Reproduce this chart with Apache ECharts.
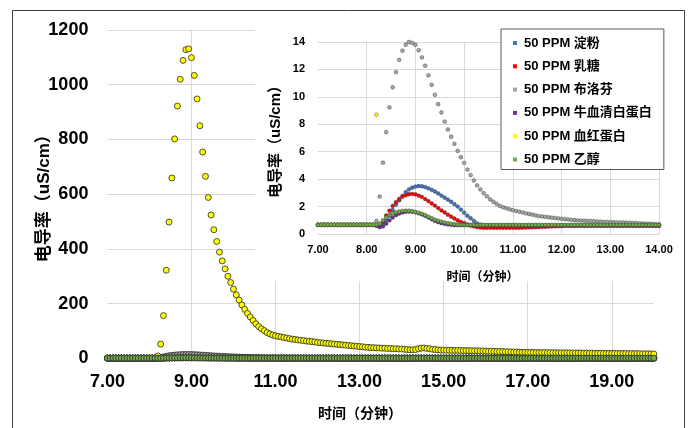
<!DOCTYPE html>
<html>
<head>
<meta charset="utf-8">
<script src="https://cdn.jsdelivr.net/npm/echarts@6/dist/echarts.min.js"></script>
<style>
html,body{margin:0;padding:0;background:#fff;}
#chart{width:695px;height:428px;}
</style>
</head>
<body>
<div id="chart"></div>
<script>
// ---------- data ----------
const seriesNames = ['50 PPM 淀粉', '50 PPM 乳糖', '50 PPM 布洛芬', '50 PPM 牛血清白蛋白', '50 PPM 血红蛋白', '50 PPM 乙醇'];
const seriesColors = ['#4472C4', '#FF0000', '#A5A5A5', '#7030A0', '#FFFF00', '#70AD47'];
const startMinute = 7.0;          // first sample (min)
const minutesPerSample = 1 / 15;  // one reading every 4 s

const mainXTicks = { min: 7, max: 20, step: 2 };
const mainYTicks = { min: 0, max: 1200, step: 200 };
const insetXTicks = { min: 7, max: 14, step: 1 };
const insetYTicks = { min: 0, max: 14, step: 2 };

const xTitle = '时间（分钟）';
const yTitle = '电导率（uS/cm）';

// one row per minute (15 readings), last value = 20.00 min
const starch = [
 0.66,0.66,0.66,0.66,0.66,0.66,0.66,0.66,0.66,0.66,0.66,0.66,0.66,0.66,0.66,
 0.66,0.66,0.66,0.66,0.66,0.75,1.0,1.35,1.75,2.15,2.45,2.78,3.05,3.25,3.38,
 3.46,3.5,3.48,3.42,3.33,3.22,3.1,2.96,2.8,2.65,2.5,2.35,2.18,2.0,1.78,
 1.55,1.33,1.15,0.95,0.78,0.68,0.63,0.62,0.62,0.62,0.62,0.62,0.62,0.62,0.62,
 0.62,0.62,0.62,0.62,0.62,0.62,0.62,0.62,0.62,0.62,0.62,0.62,0.62,0.62,0.62,
 0.62,0.62,0.62,0.62,0.62,0.62,0.62,0.62,0.62,0.62,0.62,0.62,0.62,0.62,0.62,
 0.62,0.62,0.62,0.62,0.62,0.62,0.62,0.62,0.62,0.62,0.62,0.62,0.62,0.62,0.62,
 0.62,0.62,0.62,0.62,0.62,0.62,0.62,0.62,0.62,0.62,0.62,0.62,0.62,0.62,0.62,
 0.62,0.62,0.62,0.62,0.62,0.62,0.62,0.62,0.62,0.62,0.62,0.62,0.62,0.62,0.62,
 0.62,0.62,0.62,0.62,0.62,0.62,0.62,0.62,0.62,0.62,0.62,0.62,0.62,0.62,0.62,
 0.62,0.62,0.62,0.62,0.62,0.62,0.62,0.62,0.62,0.62,0.62,0.62,0.62,0.62,0.62,
 0.62,0.62,0.62,0.62,0.62,0.62,0.62,0.62,0.62,0.62,0.62,0.62,0.62,0.62,0.62,
 0.62,0.62,0.62,0.62,0.62,0.62,0.62,0.62,0.62,0.62,0.62,0.62,0.62,0.62,0.62,
 0.62
];
const lactose = [
 0.66,0.66,0.66,0.66,0.66,0.66,0.66,0.66,0.66,0.66,0.66,0.66,0.66,0.66,0.66,
 0.66,0.66,0.66,0.62,0.55,0.9,1.35,1.7,2.05,2.32,2.56,2.72,2.82,2.9,2.92,
 2.89,2.8,2.7,2.55,2.4,2.23,2.07,1.89,1.72,1.57,1.41,1.26,1.13,1.0,0.89,
 0.8,0.7,0.62,0.55,0.5,0.47,0.45,0.45,0.45,0.45,0.45,0.45,0.45,0.45,0.45,
 0.45,0.45,0.45,0.46,0.47,0.48,0.49,0.5,0.51,0.52,0.53,0.54,0.55,0.56,0.57,
 0.58,0.6,0.6,0.6,0.6,0.6,0.6,0.6,0.6,0.6,0.6,0.6,0.6,0.6,0.6,
 0.6,0.6,0.6,0.6,0.6,0.6,0.6,0.6,0.6,0.6,0.6,0.6,0.6,0.6,0.6,
 0.6,0.6,0.6,0.6,0.6,0.6,0.6,0.6,0.6,0.6,0.6,0.6,0.6,0.6,0.6,
 0.6,0.6,0.6,0.6,0.6,0.6,0.6,0.6,0.6,0.6,0.6,0.6,0.6,0.6,0.6,
 0.6,0.6,0.6,0.6,0.6,0.6,0.6,0.6,0.6,0.6,0.6,0.6,0.6,0.6,0.6,
 0.6,0.6,0.6,0.6,0.6,0.6,0.6,0.6,0.6,0.6,0.6,0.6,0.6,0.6,0.6,
 0.6,0.6,0.6,0.6,0.6,0.6,0.6,0.6,0.6,0.6,0.6,0.6,0.6,0.6,0.6,
 0.6,0.6,0.6,0.6,0.6,0.6,0.6,0.6,0.6,0.6,0.6,0.6,0.6,0.6,0.6,
 0.6
];
const ibuprofen = [
 0.68,0.68,0.68,0.68,0.68,0.68,0.68,0.68,0.68,0.68,0.68,0.68,0.68,0.68,0.68,
 0.68,0.68,0.68,0.95,2.73,5.2,7.43,9.23,10.7,11.8,12.7,13.37,13.8,14.0,13.93,
 13.8,13.4,12.88,12.27,11.57,10.88,10.15,9.47,8.86,8.2,7.62,7.09,6.57,6.06,5.6,
 5.19,4.7,4.3,3.9,3.55,3.25,2.98,2.75,2.53,2.35,2.2,2.05,1.95,1.87,1.8,
 1.74,1.68,1.63,1.57,1.51,1.46,1.41,1.36,1.31,1.28,1.25,1.22,1.19,1.16,1.14,
 1.11,1.08,1.06,1.03,1.01,0.99,0.98,0.97,0.96,0.95,0.93,0.91,0.9,0.88,0.88,
 0.87,0.86,0.85,0.85,0.84,0.83,0.82,0.81,0.8,0.78,0.77,0.76,0.75,0.74,0.72,
 0.71,0.7,0.7,0.7,0.7,0.7,0.7,0.7,0.7,0.7,0.7,0.7,0.7,0.7,0.7,
 0.7,0.7,0.7,0.7,0.7,0.7,0.7,0.7,0.7,0.7,0.7,0.7,0.7,0.7,0.7,
 0.7,0.68,0.68,0.68,0.68,0.68,0.68,0.68,0.68,0.68,0.68,0.68,0.68,0.68,0.68,
 0.68,0.68,0.68,0.68,0.68,0.68,0.68,0.68,0.68,0.68,0.68,0.68,0.68,0.68,0.68,
 0.68,0.66,0.66,0.66,0.66,0.66,0.66,0.66,0.66,0.66,0.66,0.66,0.66,0.66,0.66,
 0.66,0.66,0.66,0.66,0.66,0.66,0.66,0.66,0.66,0.66,0.66,0.66,0.66,0.66,0.66,
 0.66
];
const bsa = [
 0.66,0.66,0.66,0.66,0.66,0.66,0.66,0.66,0.66,0.66,0.66,0.66,0.66,0.66,0.66,
 0.66,0.66,0.66,0.6,0.5,0.55,0.75,1.0,1.2,1.37,1.49,1.57,1.62,1.64,1.62,
 1.58,1.51,1.43,1.32,1.2,1.07,0.95,0.86,0.79,0.74,0.7,0.67,0.64,0.64,0.64,
 0.64,0.64,0.64,0.64,0.64,0.64,0.64,0.64,0.64,0.64,0.64,0.64,0.64,0.64,0.64,
 0.64,0.62,0.62,0.62,0.62,0.62,0.62,0.62,0.62,0.62,0.62,0.62,0.62,0.62,0.62,
 0.62,0.62,0.62,0.62,0.62,0.62,0.62,0.62,0.62,0.62,0.62,0.62,0.62,0.62,0.62,
 0.62,0.62,0.62,0.62,0.62,0.62,0.62,0.62,0.62,0.62,0.62,0.62,0.62,0.62,0.62,
 0.62,0.62,0.62,0.62,0.62,0.62,0.62,0.62,0.62,0.62,0.62,0.62,0.62,0.62,0.62,
 0.62,0.62,0.62,0.62,0.62,0.62,0.62,0.62,0.62,0.62,0.62,0.62,0.62,0.62,0.62,
 0.62,0.62,0.62,0.62,0.62,0.62,0.62,0.62,0.62,0.62,0.62,0.62,0.62,0.62,0.62,
 0.62,0.62,0.62,0.62,0.62,0.62,0.62,0.62,0.62,0.62,0.62,0.62,0.62,0.62,0.62,
 0.62,0.62,0.62,0.62,0.62,0.62,0.62,0.62,0.62,0.62,0.62,0.62,0.62,0.62,0.62,
 0.62,0.62,0.62,0.62,0.62,0.62,0.62,0.62,0.62,0.62,0.62,0.62,0.62,0.62,0.62,
 0.62
];
const hemoglobin = [
 0.68,0.68,0.68,0.68,0.68,0.68,0.68,0.68,0.68,0.68,0.68,0.68,0.68,0.68,0.68,
 0.68,0.68,0.68,8.7,52,156,322,498,659,802,922,1020,1089,1128,1131,
 1099,1034,948,850,754,665,588,524,470,427,388,356,327,300,277,
 253,232,213,195,179,164,151,138,126,116,108,101,94,89,85,
 82,80,78,76,74,72,70,69,67,66,65,63,62,61,60,
 58,57,56,55,54,53,52,51,50,49,48,47,46,45,44,
 43,42,41,40,39,39,38,38,37,37,36,36,35,35,34,
 34,33,32,31,31,32,35,37,38,36,35,33,32,31,30,
 30,29.5,29.5,29,29,29,28.5,28.5,28,28,28,27.5,27.5,27,27,
 26.5,26,26,25.5,25,25,24.5,24,24,23.5,23,23,22.5,22,22,
 21.5,21.5,21.5,21,21,21,21,20.5,20.5,20.5,20.5,20,20,20,20,
 20,19.5,19.5,19.5,19.5,19,19,19,19,18.5,18.5,18.5,18.5,18,18,
 18,18,17.5,17.5,17.5,17.5,17,17,17,17,16.5,16.5,16.5,16.5,16,
 16
];
const ethanol = [
 0.68,0.68,0.68,0.68,0.68,0.68,0.68,0.68,0.68,0.68,0.68,0.68,0.68,0.68,0.68,
 0.68,0.68,0.68,0.68,0.75,1.0,1.22,1.38,1.5,1.58,1.64,1.68,1.7,1.7,1.66,
 1.61,1.55,1.47,1.38,1.27,1.15,1.05,0.97,0.9,0.84,0.79,0.75,0.72,0.7,0.68,
 0.66,0.66,0.66,0.66,0.66,0.66,0.66,0.66,0.66,0.66,0.66,0.66,0.66,0.66,0.66,
 0.66,0.66,0.66,0.66,0.66,0.66,0.66,0.66,0.66,0.66,0.66,0.66,0.66,0.66,0.66,
 0.66,0.66,0.66,0.66,0.66,0.66,0.66,0.66,0.66,0.66,0.66,0.66,0.66,0.66,0.66,
 0.66,0.66,0.66,0.66,0.66,0.66,0.66,0.66,0.66,0.66,0.66,0.66,0.66,0.66,0.66,
 0.66,0.66,0.66,0.66,0.66,0.66,0.66,0.66,0.66,0.66,0.66,0.66,0.66,0.66,0.66,
 0.66,0.66,0.66,0.66,0.66,0.66,0.66,0.66,0.66,0.66,0.66,0.66,0.66,0.66,0.66,
 0.66,0.66,0.66,0.66,0.66,0.66,0.66,0.66,0.66,0.66,0.66,0.66,0.66,0.66,0.66,
 0.66,0.66,0.66,0.66,0.66,0.66,0.66,0.66,0.66,0.66,0.66,0.66,0.66,0.66,0.66,
 0.66,0.66,0.66,0.66,0.66,0.66,0.66,0.66,0.66,0.66,0.66,0.66,0.66,0.66,0.66,
 0.66,0.66,0.66,0.66,0.66,0.66,0.66,0.66,0.66,0.66,0.66,0.66,0.66,0.66,0.66,
 0.66
];
const allValues = [starch, lactose, ibuprofen, bsa, hemoglobin, ethanol];

// ---------- chart ----------
const FONT = '"Liberation Sans", "Noto Sans CJK SC", sans-serif';
const toPoints = vals => vals.map((v, i) => [startMinute + i * minutesPerSample, v]);
const fmt2 = v => v.toFixed(2);
const fmtInt = v => String(v);

const chart = echarts.init(document.getElementById('chart'), null, { renderer: 'canvas' });

const series = [];
allValues.forEach((vals, i) => {
  series.push({
    name: seriesNames[i], type: 'scatter', xAxisIndex: 0, yAxisIndex: 0,
    data: toPoints(vals), symbolSize: 6, z: 2, animation: false,
    itemStyle: { color: seriesColors[i], borderColor: '#262626', borderWidth: 0.8, opacity: 1 }
  });
});
allValues.forEach((vals, i) => {
  series.push({
    name: seriesNames[i], type: 'scatter', xAxisIndex: 1, yAxisIndex: 1,
    data: toPoints(vals), symbolSize: 3.8, z: 5, clip: true, animation: false,
    itemStyle: { color: seriesColors[i], borderColor: '#333', borderWidth: 0.4, opacity: 1 }
  });
});

const gridLine = { show: true, lineStyle: { color: '#d9d9d9', width: 1 } };

chart.setOption({
  animation: false,
  backgroundColor: '#fff',
  textStyle: { fontFamily: FONT },
  grid: [
    { left: 107.4, right: 41.2, top: 30, bottom: 69.7, z: 0 },
    { left: 318, right: 36, top: 42, bottom: 194, z: 3 }
  ],
  xAxis: [
    {
      gridIndex: 0, type: 'value', z: 0,
      min: mainXTicks.min, max: mainXTicks.max, interval: mainXTicks.step,
      axisLine: { show: false }, axisTick: { show: false },
      splitLine: Object.assign({ showMinLine: false, showMaxLine: false }, gridLine),
      axisLabel: { formatter: fmt2, fontSize: 18, fontWeight: 'bold', color: '#000', fontFamily: FONT, margin: 15, showMaxLabel: false, showMinLabel: true },
      name: xTitle, nameLocation: 'middle', nameGap: 49, nameMoveOverlap: false,
      nameTextStyle: { fontSize: 14, fontWeight: 'bold', color: '#000', fontFamily: FONT, padding: [0, 41, 0, 0] }
    },
    {
      gridIndex: 1, type: 'value', z: 3,
      min: insetXTicks.min, max: insetXTicks.max, interval: insetXTicks.step,
      axisLine: { show: false }, axisTick: { show: false },
      splitLine: Object.assign({ showMinLine: false }, gridLine),
      axisLabel: { formatter: fmt2, fontSize: 11, fontWeight: 'bold', color: '#000', fontFamily: FONT, margin: 10 },
      name: xTitle, nameLocation: 'middle', nameGap: 38, nameMoveOverlap: false,
      nameTextStyle: { fontSize: 12, fontWeight: 'bold', color: '#000', fontFamily: FONT, padding: [0, 12, 0, 0] }
    }
  ],
  yAxis: [
    {
      gridIndex: 0, type: 'value', z: 0,
      min: mainYTicks.min, max: mainYTicks.max, interval: mainYTicks.step,
      axisLine: { show: false }, axisTick: { show: false },
      splitLine: gridLine,
      axisLabel: { formatter: fmtInt, fontSize: 18, fontWeight: 'bold', color: '#000', fontFamily: FONT, margin: 19 },
      name: yTitle, nameLocation: 'middle', nameGap: 55, nameMoveOverlap: false,
      nameTextStyle: { fontSize: 17, fontWeight: 'bold', color: '#000', fontFamily: FONT }
    },
    {
      gridIndex: 1, type: 'value', z: 3,
      min: insetYTicks.min, max: insetYTicks.max, interval: insetYTicks.step,
      axisLine: { show: false }, axisTick: { show: false },
      splitLine: gridLine,
      axisLabel: { formatter: fmtInt, fontSize: 11, fontWeight: 'bold', color: '#000', fontFamily: FONT, margin: 13 },
      name: yTitle, nameLocation: 'middle', nameGap: 35, nameMoveOverlap: false,
      nameTextStyle: { fontSize: 15, fontWeight: 'bold', color: '#000', fontFamily: FONT }
    }
  ],
  legend: {
    data: seriesNames, orient: 'vertical', left: 501, top: 29, z: 10,
    backgroundColor: '#fff', borderColor: '#595959', borderWidth: 1,
    padding: [7, 12, 3, 12], itemGap: 9.3, itemWidth: 4, itemHeight: 4, icon: 'rect',
    itemStyle: { borderWidth: 0 },
    textStyle: { fontSize: 13, fontWeight: 'bold', color: '#000', fontFamily: FONT, lineHeight: 14, padding: [0, 0, 0, 2] }
  },
  graphic: {
    z: 1,
    elements: [
      { type: 'rect', z: 1, silent: true, shape: { x: 255, y: 11, width: 429, height: 270 }, style: { fill: '#fff' } },
      { type: 'rect', z: 100, silent: true, shape: { x: 12.5, y: 10.5, width: 672, height: 430 }, style: { fill: null, stroke: '#404040', lineWidth: 1 } }
    ]
  },
  series: series
});
</script>
</body>
</html>
